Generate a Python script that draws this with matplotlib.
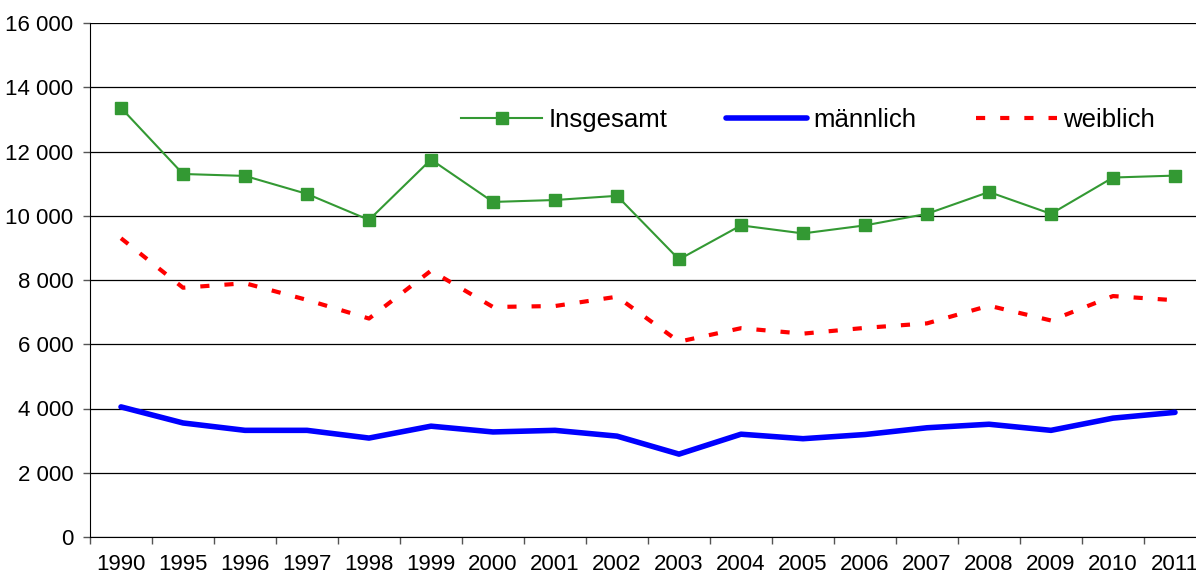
import matplotlib.pyplot as plt
from matplotlib.ticker import FixedLocator, FuncFormatter

plt.rcParams['font.family'] = ['Liberation Sans', 'DejaVu Sans']

years = ['1990', '1995', '1996', '1997', '1998', '1999', '2000', '2001', '2002',
         '2003', '2004', '2005', '2006', '2007', '2008', '2009', '2010', '2011']
insgesamt = [13360, 11300, 11240, 10680, 9870, 11750, 10430, 10490, 10620,
             8640, 9700, 9450, 9700, 10060, 10740, 10060, 11190, 11250]
maennlich = [4050, 3550, 3320, 3320, 3080, 3450, 3270, 3320, 3140,
             2580, 3200, 3060, 3190, 3400, 3510, 3320, 3700, 3880]
weiblich = [9300, 7760, 7900, 7380, 6800, 8290, 7160, 7190, 7480,
            6080, 6500, 6330, 6510, 6650, 7200, 6740, 7500, 7370]

fig = plt.figure(figsize=(11.96, 5.76), dpi=100)
# the plot area runs a little past the right edge of the picture, like the original
ax = fig.add_axes([90 / 1196, 1 - 537 / 576, 1116 / 1196, 514 / 576])

x = list(range(len(years)))
ax.plot(x, insgesamt, color='#339933', lw=1.5, marker='s', ms=8.5,
        mec='#339933', label='Insgesamt', zorder=4)
ax.plot(x, maennlich, color='#0000ff', lw=4, solid_capstyle='round',
        label='männlich', zorder=3)
ax.plot(x, weiblich, color='#ff0000', lw=3, dashes=(2.2, 3.6),
        label='weiblich', zorder=3)

ax.set_xlim(-0.5, len(years) - 0.5)
ax.set_ylim(0, 16000)
ax.set_yticks(range(0, 16001, 2000))
ax.yaxis.set_major_formatter(FuncFormatter(lambda v, p: f'{int(v):,}'.replace(',', ' ')))
ax.grid(axis='y', color='black', lw=0.9)
ax.set_axisbelow(True)

ax.set_xticks(x)
ax.set_xticklabels(years)
ax.xaxis.set_minor_locator(FixedLocator([i - 0.5 for i in range(len(years) + 1)]))
ax.tick_params(axis='x', which='major', length=0, pad=12, labelsize=16)
ax.tick_params(axis='x', which='minor', length=5, width=1, color='#555555')
ax.tick_params(axis='y', length=5, width=1, color='#555555', pad=7, labelsize=16)

for side in ['top', 'right']:
    ax.spines[side].set_visible(False)
ax.spines['left'].set_color('black')
ax.spines['bottom'].set_color('black')

ax.legend(loc='center', bbox_to_anchor=(808 / 1196, 1 - 120 / 576),
          bbox_transform=fig.transFigure, ncol=3, frameon=False, fontsize=18.5,
          handlelength=3.15, handletextpad=0.25, columnspacing=2.3, borderpad=0)

fig.savefig('out.png', dpi=100)
